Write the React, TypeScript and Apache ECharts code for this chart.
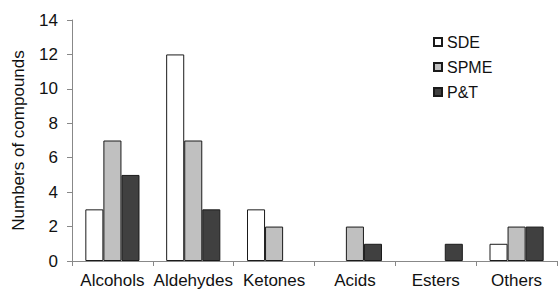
import React, { useEffect, useRef } from "react";
import * as echarts from "echarts";

const categories = ["Alcohols", "Aldehydes", "Ketones", "Acids", "Esters", "Others"];
const sde = [3, 12, 3, 0, 0, 1];
const spme = [7, 7, 2, 2, 0, 2];
const pt = [5, 3, 0, 1, 1, 2];
const yTicks = { min: 0, max: 14, interval: 2 };

const FONT = "Liberation Sans, Arial, sans-serif";

export default function App() {
  const ref = useRef<HTMLDivElement>(null);
  useEffect(() => {
    if (!ref.current) return;
    const chart = echarts.init(ref.current, undefined, { renderer: "svg" });
    const barStyle = (color: string) => ({
      color,
      borderColor: "#1a1a1a",
      borderWidth: 1,
    });
    const toData = (arr: number[]) =>
      arr.map((v) => (v === 0 ? { value: v, itemStyle: { borderWidth: 0, opacity: 0 } } : v));
    chart.setOption({
      animation: false,
      backgroundColor: "#ffffff",
      textStyle: { fontFamily: FONT },
      grid: { left: 72, right: 1, top: 20, bottom: 28, containLabel: false },
      legend: {
        orient: "vertical",
        left: 428,
        top: 29,
        itemWidth: 8,
        itemHeight: 8,
        itemGap: 9,
        icon: "rect",
        textStyle: { fontSize: 16, color: "#111", fontFamily: FONT, lineHeight: 16 },
        data: ["SDE", "SPME", "P&T"],
      },
      xAxis: {
        type: "category",
        data: categories,
        axisLine: { lineStyle: { color: "#888", width: 1 } },
        axisTick: { show: true, length: 5, lineStyle: { color: "#888" } },
        axisLabel: { fontSize: 17, color: "#111", margin: 11, interval: 0, fontFamily: FONT },
        splitLine: { show: false },
      },
      yAxis: {
        type: "value",
        min: yTicks.min,
        max: yTicks.max,
        interval: yTicks.interval,
        name: "Numbers of compounds",
        nameLocation: "middle",
        nameGap: 45,
        nameRotate: 90,
        nameTextStyle: { fontSize: 17, color: "#111", fontFamily: FONT },
        axisLine: { show: true, lineStyle: { color: "#888", width: 1 } },
        axisTick: { show: true, length: 5, lineStyle: { color: "#888" } },
        axisLabel: { fontSize: 17, color: "#111", margin: 14, fontFamily: FONT },
        splitLine: { show: false },
      },
      series: [
        { name: "SDE", type: "bar", data: toData(sde), itemStyle: barStyle("#ffffff"), barGap: "0%", barCategoryGap: "33%" },
        { name: "SPME", type: "bar", data: toData(spme), itemStyle: barStyle("#c0c0c0"), barGap: "0%", barCategoryGap: "33%" },
        { name: "P&T", type: "bar", data: toData(pt), itemStyle: barStyle("#404040"), barGap: "0%", barCategoryGap: "33%" },
      ],
    });
    return () => chart.dispose();
  }, []);
  return (
    <div
      ref={ref}
      style={{ position: "fixed", left: 0, top: 0, width: 558, height: 289, background: "#fff" }}
    />
  );
}
